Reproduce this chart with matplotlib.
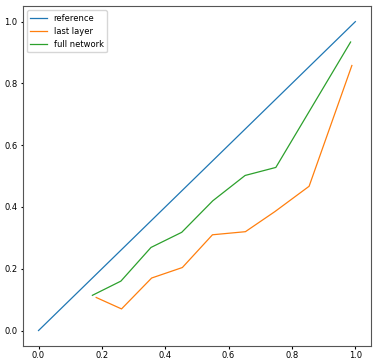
import matplotlib

matplotlib.use("Agg")
import matplotlib.pyplot as plt

# calibration curve data
ref_x = [0.0, 1.0]
ref_y = [0.0, 1.0]

last_x = [0.182, 0.262, 0.357, 0.454, 0.549, 0.653, 0.746, 0.854, 0.989]
last_y = [0.107, 0.070, 0.170, 0.204, 0.310, 0.320, 0.385, 0.467, 0.858]

full_x = [0.170, 0.260, 0.355, 0.452, 0.550, 0.652, 0.749, 0.985]
full_y = [0.114, 0.160, 0.269, 0.318, 0.420, 0.502, 0.528, 0.934]


def main() -> None:
    plt.rcParams["font.size"] = 6
    plt.rcParams["xtick.major.size"] = 1.8
    plt.rcParams["ytick.major.size"] = 1.8
    plt.rcParams["xtick.major.pad"] = 1.8
    plt.rcParams["ytick.major.pad"] = 1.8
    plt.rcParams["axes.edgecolor"] = "#555555"
    fig = plt.figure(figsize=(3.78, 3.64), dpi=100)
    ax = fig.add_axes([0.06, 0.0495, 0.922, 0.9335])
    ax.plot(ref_x, ref_y, label="reference", linewidth=0.9)
    ax.plot(last_x, last_y, label="last layer", linewidth=0.9)
    ax.plot(full_x, full_y, label="full network", linewidth=0.9)
    ax.set_xticks([0.0, 0.2, 0.4, 0.6, 0.8, 1.0])
    ax.set_yticks([0.0, 0.2, 0.4, 0.6, 0.8, 1.0])
    ax.legend(loc="upper left")
    fig.savefig("out.png")
    plt.close(fig)


if __name__ == "__main__":
    main()
